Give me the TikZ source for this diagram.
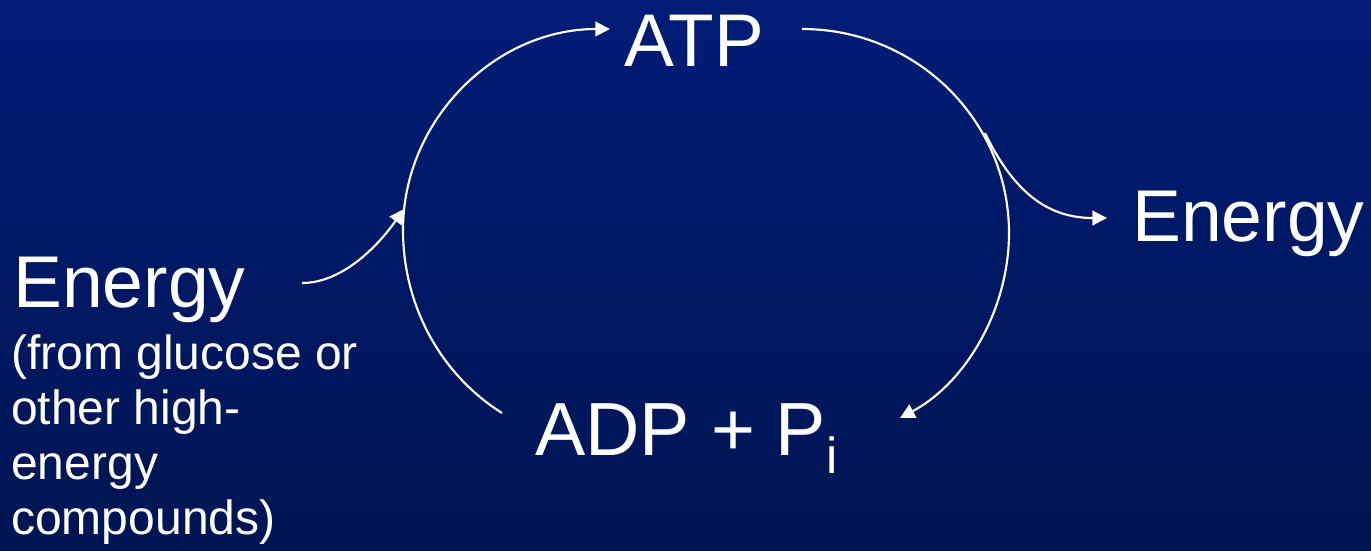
\documentclass[tikz,border=0pt]{standalone}
\usepackage{fontspec}
\setmainfont{Liberation Sans}
\usetikzlibrary{arrows.meta}
\definecolor{bgtop}{RGB}{0,28,118}
\definecolor{bgbot}{RGB}{0,21,82}
\tikzset{
  big/.style={text=white, inner sep=0pt, anchor=base west, font=\fontsize{55}{60}\selectfont},
  small/.style={text=white, inner sep=0pt, anchor=base west, font=\fontsize{36}{41}\selectfont},
  cyc/.style={draw=white, line width=1.6pt, -{Triangle[length=11pt,width=11pt]}},
}
\begin{document}
\begin{tikzpicture}[x=0.75pt,y=-0.75pt]
\shade[top color=bgtop, bottom color=bgbot] (0,0) rectangle (1371,550);
\useasboundingbox (0,0) rectangle (1371,550);

\node[big, font=\fontsize{56}{60}\selectfont] (atp) at (624,66) {ATP};
\node[big] (eright) at (1132,241) {Energy};
\node[big] (eleft) at (13,307) {Energy};
\node[small] (s1) at (11,369) {(from glucose or};
\node[small] (s2) at (11,424) {other high-};
\node[small] (s3) at (11,479) {energy};
\node[small] (s4) at (11,534) {compounds)};
\node[big, font=\fontsize{56.5}{60}\selectfont] (adp) at (535,455) {ADP + P\raisebox{-14pt}{\fontsize{38}{40}\selectfont i}};

\coordinate (l0) at (502,413);
\coordinate (lm) at (403,230);
\coordinate (l1) at (610,29);
\coordinate (r0) at (802,29);
\coordinate (rm) at (1009,233);
\coordinate (r1) at (900,418);
\coordinate (ea0) at (985,133);
\coordinate (ea1) at (1107,218);
\coordinate (eb0) at (302,283);
\coordinate (eb1) at (404,209);

\draw[cyc] (l0) .. controls (440,374) and (403,305) .. (lm)
            .. controls (403,119) and (496,29) .. (l1);
\draw[cyc] (r0) .. controls (916,29) and (1009,120) .. (rm)
            .. controls (1009,308) and (967,382) .. (r1);
\draw[cyc] (ea0) .. controls (1015,195) and (1050,218) .. (ea1);
\draw[cyc] (eb0) .. controls (340,283) and (375,250) .. (eb1);
\end{tikzpicture}
\end{document}
